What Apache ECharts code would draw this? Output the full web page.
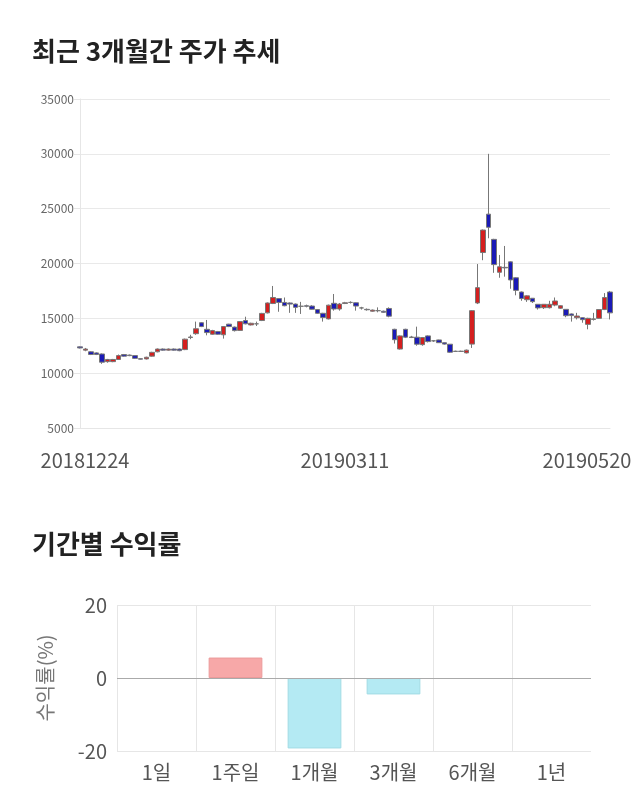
<!DOCTYPE html>
<html>
<head>
<meta charset="utf-8">
<script src="https://cdn.jsdelivr.net/npm/echarts@6/dist/echarts.min.js"></script>
<style>
html,body{margin:0;padding:0;background:#fff;}
#c{width:640px;height:810px;}
</style>
</head>
<body>
<div id="c"></div>
<script>
var dates = ['20181224','20181226','20181227','20181228',
'20190102','20190103','20190104','20190107','20190108','20190109','20190110','20190111','20190114','20190115','20190116','20190117','20190118','20190121','20190122','20190123','20190124','20190125','20190128','20190129','20190130','20190131',
'20190201','20190207','20190208','20190211','20190212','20190213','20190214','20190215','20190218','20190219','20190220','20190221','20190222','20190225','20190226','20190227','20190228',
'20190304','20190305','20190306','20190307','20190308','20190311','20190312','20190313','20190314','20190315','20190318','20190319','20190320','20190321','20190322','20190325','20190326','20190327','20190328','20190329',
'20190401','20190402','20190403','20190404','20190405','20190408','20190409','20190410','20190411','20190412','20190415','20190416','20190417','20190418','20190419','20190422','20190423','20190424','20190425','20190426','20190429','20190430',
'20190502','20190503','20190507','20190508','20190509','20190510','20190513','20190514','20190515','20190516','20190517','20190520'];

var opens = [12400,12100,11950,11850,11750,11050,11050,11250,11700,11650,11600,11320,11300,11550,11950,12200,12100,12200,12200,12150,13250,13600,14600,14000,13550,13790,
13500,14470,14200,13900,14800,14400,14500,14800,15500,16350,16800,16450,16400,16300,16100,16150,16120,
15800,15460,14950,16370,15850,16350,16450,16420,15950,15820,15650,15700,15650,15900,14000,12200,14000,13250,13280,12600,
13400,12950,13030,12780,12640,12000,12000,11850,12650,16400,21000,24500,22200,19200,19650,20150,18700,17400,16700,16830,16280,15970,
15970,16210,15920,15820,15400,15060,15060,14450,14900,15000,15800,17400];
var closes = [12300,12200,11700,11700,11000,11250,11250,11600,11550,11600,11350,11280,11450,11900,12200,12100,12200,12100,12050,13100,13300,14050,14250,13700,13880,13550,
14250,14250,13880,14700,14500,14550,14500,15450,16400,16900,16450,16150,16300,16000,16100,16100,15830,
15460,15080,16200,15850,16300,16420,16450,16120,15950,15780,15750,15700,15550,15200,13050,13400,13280,13300,12640,13250,
12880,12950,12780,12650,11910,11980,11980,12100,15700,17800,23050,23300,19900,19700,19600,18500,17550,16800,17050,16520,15950,16280,
16280,16580,16150,15240,15250,15210,14880,15000,14950,15800,16900,15500];
var lows = [12250,12000,11650,11650,10850,10950,11000,11200,11500,11550,11300,11250,11250,11500,11900,12050,12050,12050,12000,12100,13100,13500,14200,13450,13500,13500,
13150,14200,13800,13850,14450,14350,14300,14750,15450,16300,15600,16100,15500,15500,15400,16000,15800,
15400,14700,14900,15700,15700,16300,16350,15700,15800,15700,15600,15550,15500,15100,12700,12150,13200,13200,12500,12500,
12800,12850,12750,12600,11850,11950,11950,11800,12300,16300,20300,22300,19150,18700,18800,17700,17100,16600,16500,16400,15800,15850,
15900,16100,15850,15100,14700,14900,14600,14000,14800,14950,15750,14900];
var highs = [12450,12300,12000,11900,11800,11300,11300,11700,11750,11700,11650,11350,11500,11950,12250,12250,12250,12250,12250,13150,13500,14700,14650,14850,13950,13850,
14300,14500,14250,14750,15150,14600,14700,15500,16450,17950,16850,16900,16450,16350,16500,16250,16200,
15850,15500,16250,17220,16400,16500,16550,16450,16050,15900,15800,16000,15700,16000,14050,13450,14050,13400,14240,13300,
13450,13000,13050,12800,12650,12050,12050,12150,15750,19950,23100,30000,22250,20780,21600,20200,18750,17450,17100,16850,16300,16300,
16600,16900,16200,15850,15450,15500,15100,15050,15500,15850,17300,17500];

var yTicks = {min: 5000, max: 35000, step: 5000};

var periods = ['1일','1주일','1개월','3개월','6개월','1년'];
var returns = [0, 5.6, -19.3, -4.5, 0, 0];

var candles = dates.map(function(d, i){ return [opens[i], closes[i], lows[i], highs[i]]; });

var chart = echarts.init(document.getElementById('c'), null, {renderer:'canvas'});
var FONT = '"Noto Sans CJK KR", "Noto Sans", sans-serif';
var lastIdx = dates.length - 1;
var midIdx = dates.indexOf('20190311');

chart.setOption({
  animation: false,
  backgroundColor: '#fff',
  textStyle: {fontFamily: FONT},
  title: [
    {text: '최근 3개월간 주가 추세', left: 27, top: 33, textStyle: {fontSize: 26, fontWeight: 'bold', color: '#222', fontFamily: FONT}},
    {text: '기간별 수익률', left: 27, top: 526, textStyle: {fontSize: 26, fontWeight: 'bold', color: '#222', fontFamily: FONT}}
  ],
  grid: [
    {left: 80, top: 99, width: 530, height: 329},
    {left: 117, top: 605, width: 474, height: 146}
  ],
  xAxis: [
    {
      type: 'category', gridIndex: 0, data: dates, boundaryGap: false,
      axisLine: {show: true, lineStyle: {color: '#e6e6e6'}},
      axisTick: {show: false},
      splitLine: {show: false},
      axisLabel: {
        interval: function(i){ return i === 0 || i === midIdx || i === lastIdx; },
        showMinLabel: true, showMaxLabel: true,
        margin: 22, fontSize: 20, color: '#555', fontFamily: FONT,
        formatter: function(v, i){
          if (i === 0) return '{a|' + v + '}';
          if (i === lastIdx) return '{b|' + v + '}';
          return v;
        },
        rich: {
          a: {fontSize: 20, color: '#555', fontFamily: FONT, padding: [0,0,0,10]},
          b: {fontSize: 20, color: '#555', fontFamily: FONT, padding: [0,46,0,0]}
        }
      }
    },
    {
      type: 'category', gridIndex: 1, data: periods, boundaryGap: true,
      axisLine: {show: false},
      axisTick: {show: false},
      splitLine: {show: true, showMaxLine: false, lineStyle: {color: '#e6e6e6'}},
      axisLabel: {fontSize: 20, color: '#555', margin: 11, fontFamily: FONT}
    }
  ],
  yAxis: [
    {
      type: 'value', gridIndex: 0, min: yTicks.min, max: yTicks.max, interval: yTicks.step,
      axisLine: {show: true, lineStyle: {color: '#e6e6e6'}},
      axisTick: {show: true, length: 6, lineStyle: {color: '#e6e6e6'}},
      splitLine: {show: true, lineStyle: {color: '#e9e9e9'}},
      axisLabel: {fontSize: 12, color: '#666', margin: 6, fontFamily: FONT,
        formatter: function(v){ return String(v); }}
    },
    {
      type: 'value', gridIndex: 1, min: -20, max: 20, interval: 20,
      axisLine: {show: false}, axisTick: {show: false},
      splitLine: {show: true, lineStyle: {color: '#e6e6e6'}},
      axisLabel: {fontSize: 20, color: '#555', margin: 10, fontFamily: FONT},
      name: '수익률(%)', nameLocation: 'middle', nameGap: 62, nameRotate: 90,
      nameTextStyle: {fontSize: 20, color: '#777', fontFamily: FONT}
    }
  ],
  series: [
    {
      type: 'candlestick', xAxisIndex: 0, yAxisIndex: 0, data: candles,
      barWidth: 5,
      itemStyle: {color: '#d41f1f', color0: '#1a1ab6', borderColor: '#777', borderColor0: '#777', borderWidth: 1}
    },
    {
      type: 'bar', xAxisIndex: 1, yAxisIndex: 1, barWidth: '68%',
      data: returns.map(function(v){
        return {value: v, itemStyle: v > 0
          ? {color: '#f7a8a8', borderColor: '#eb9a9a', borderWidth: 1}
          : v < 0 ? {color: '#b4eaf3', borderColor: '#a2dbe4', borderWidth: 1}
          : {color: 'rgba(0,0,0,0)', borderWidth: 0}};
      }),
      markLine: {silent: true, symbol: 'none', label: {show: false},
        lineStyle: {color: '#aaa', type: 'solid', width: 1},
        data: [{yAxis: 0}]}
    }
  ]
});
</script>
</body>
</html>
